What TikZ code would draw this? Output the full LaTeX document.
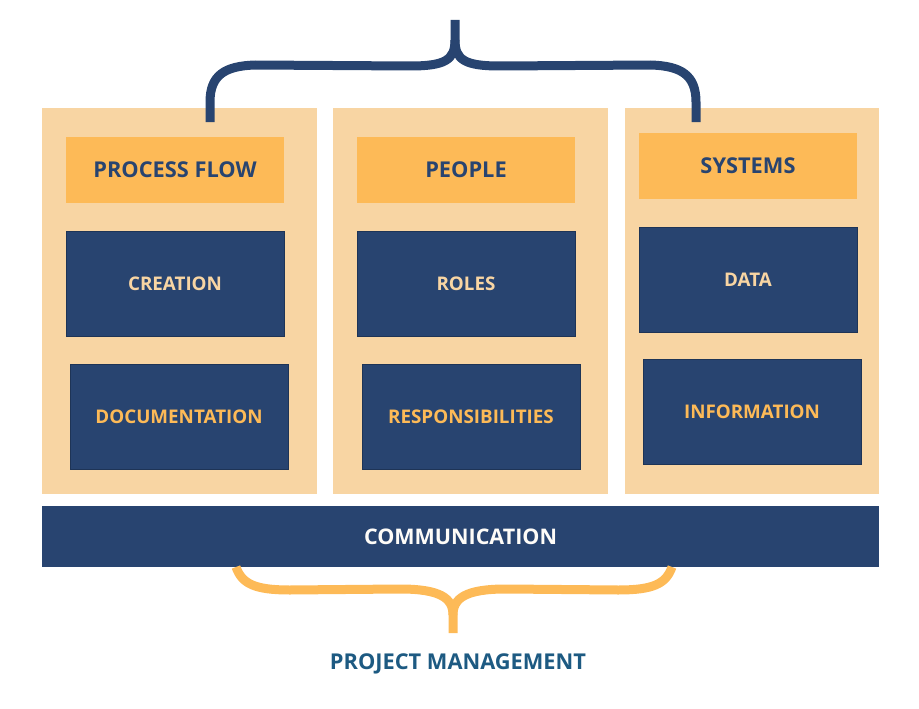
\documentclass[tikz,border=0pt]{standalone}
\usepackage{fontspec}
\setmainfont{Open Sans}
\definecolor{colbg}{HTML}{F8D5A3}
\definecolor{headbg}{HTML}{FDBA57}
\definecolor{navy}{HTML}{284470}
\definecolor{navyedge}{HTML}{1E3456}
\definecolor{pmblue}{HTML}{1D5A82}
\begin{document}
\begin{tikzpicture}[x=1pt,y=-1pt,
  colbox/.style={fill=colbg,draw=none},
  headbox/.style={fill=headbg,draw=none,text=navy,font=\bfseries\fontsize{21.8}{24}\selectfont},
  darkbox/.style={fill=navy,draw=navyedge,line width=0.8pt,font=\bfseries\fontsize{18.8}{20}\selectfont},
  lighttxt/.style={text=colbg},
  orangetxt/.style={text=headbg},
  bracestyle/.style={line width=9pt,line cap=butt,line join=round}
]
\useasboundingbox (0,0) rectangle (919,709);
% columns
\fill[colbox] (42,108) rectangle (317,494);
\fill[colbox] (333,108) rectangle (608,494);
\fill[colbox] (625,108) rectangle (879,494);
% header boxes
\node[headbox,minimum width=218pt,minimum height=66pt] (pf) at (175,170) {PROCESS FLOW};
\node[headbox,minimum width=218pt,minimum height=66pt] (pe) at (466,170) {PEOPLE};
\node[headbox,minimum width=218pt,minimum height=66pt] (sy) at (748,166) {SYSTEMS};
% dark boxes
\node[darkbox,lighttxt,minimum width=218pt,minimum height=105pt] (cr) at (175,283.5) {CREATION};
\node[darkbox,orangetxt,minimum width=218pt,minimum height=105pt] (doc) at (179,416.5) {DOCUMENTATION};
\node[darkbox,lighttxt,minimum width=218pt,minimum height=105pt] (ro) at (466,283.5) {ROLES};
\node[darkbox,orangetxt,minimum width=218pt,minimum height=105pt] (re) at (471,416.5) {RESPONSIBILITIES};
\node[darkbox,lighttxt,minimum width=218pt,minimum height=105pt] (da) at (748,279.5) {DATA};
\node[darkbox,orangetxt,minimum width=218pt,minimum height=105pt] (in) at (752,411.5) {INFORMATION};
% communication bar
\node[fill=navy,draw=none,text=white!92!colbg,minimum width=837pt,minimum height=61pt,font=\bfseries\fontsize{21.5}{24}\selectfont] (comm) at (460.5,536.5) {COMMUNICATION};
% top brace
\coordinate (tl) at (210,122);
\coordinate (tr) at (696,122);
\coordinate (tt) at (455,20);
\draw[bracestyle,navy] (tl) -- (210,102) .. controls (210,75) and (225,66) .. (255,65)
  -- (410,66) .. controls (445,66) and (455,60) .. (455,40) -- (tt);
\draw[bracestyle,navy] (tr) -- (696,102) .. controls (696,75) and (681,66) .. (651,65)
  -- (500,66) .. controls (465,66) and (455,60) .. (455,40);
% bottom brace
\coordinate (bl) at (236,567);
\coordinate (br) at (672,567);
\coordinate (bt) at (453,633);
\draw[bracestyle,headbg] (bl) .. controls (242,584) and (255,590) .. (290,590)
  -- (400,589) .. controls (440,589) and (453,598) .. (453,615) -- (bt);
\draw[bracestyle,headbg] (br) .. controls (666,584) and (653,590) .. (618,590)
  -- (506,589) .. controls (466,589) and (453,598) .. (453,615);
% label
\node[text=pmblue,font=\bfseries\fontsize{21.8}{24}\selectfont] (pm) at (458,664) {PROJECT MANAGEMENT};
\end{tikzpicture}
\end{document}
